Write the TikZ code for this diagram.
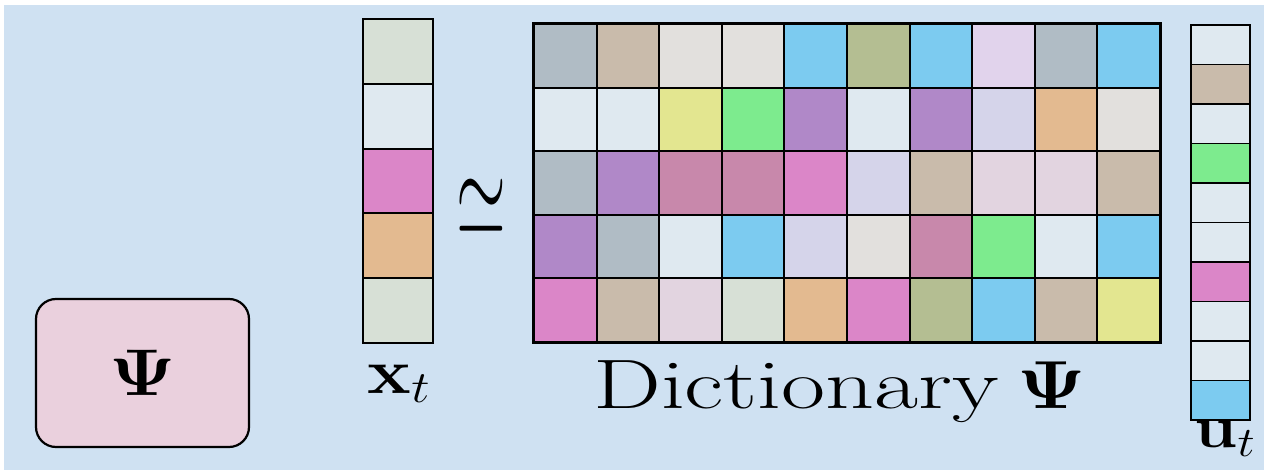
\RequirePackage{fix-cm}
\documentclass[tikz,border=0pt]{standalone}
\usepackage{amsmath,amssymb,bm}
\usepackage{graphicx}
\usepackage{xcolor}
\usepackage{tikz}
\usetikzlibrary{positioning}

\definecolor{bgblue}{HTML}{CFE1F2}
\definecolor{psipink}{HTML}{EAD0DD}
\definecolor{gb}{HTML}{B0BCC5}
\definecolor{tn}{HTML}{C9BBAB}
\definecolor{lg}{HTML}{E2E0DD}
\definecolor{sk}{HTML}{7CCBF0}
\definecolor{ol}{HTML}{B4BE92}
\definecolor{lv}{HTML}{E1D3EC}
\definecolor{pb}{HTML}{DFE9F0}
\definecolor{ye}{HTML}{E3E690}
\definecolor{gr}{HTML}{7DEB8E}
\definecolor{pu}{HTML}{B088C8}
\definecolor{ll}{HTML}{D5D4EA}
\definecolor{og}{HTML}{E3BA90}
\definecolor{ma}{HTML}{C888AB}
\definecolor{pk}{HTML}{DB86C8}
\definecolor{pp}{HTML}{E2D4E0}
\definecolor{pg}{HTML}{D7E0D6}

\newcommand{\wider}[1]{\scalebox{1.15}[1]{#1}}

\begin{document}
\begin{tikzpicture}[
    x=1pt, y=-1pt,
    cell/.style={draw, line width=2pt, inner sep=0pt, minimum width=62.6pt, minimum height=63.6pt},
    xcell/.style={draw, line width=2pt, inner sep=0pt, minimum width=70pt, minimum height=64.8pt},
    ucell/.style={draw, line width=1.6pt, inner sep=0pt, minimum width=59pt, minimum height=39.5pt},
    psibox/.style={draw, line width=2.2pt, rounded corners=20pt, fill=psipink, minimum width=213pt, minimum height=148pt},
    sym/.style={inner sep=0pt, anchor=base}
]
\useasboundingbox (0,0) rectangle (1264,470);
\fill[bgblue] (4,5) rectangle (1264,470);

% dictionary
\foreach \row [count=\r] in {
    {gb,tn,lg,lg,sk,ol,sk,lv,gb,sk},
    {pb,pb,ye,gr,pu,pb,pu,ll,og,lg},
    {gb,pu,ma,ma,pk,ll,tn,pp,pp,tn},
    {pu,gb,pb,sk,ll,lg,ma,gr,pb,sk},
    {pk,tn,pp,pg,og,pk,ol,sk,tn,ye}}
    \foreach \col [count=\c] in \row
        \node[cell, fill=\col] (d-\r-\c) at ({534+62.6*(\c-0.5)}, {24+63.6*(\r-0.5)}) {};
\draw[line width=2.6pt] (d-1-1.north west) rectangle (d-5-10.south east);

% signal and code
\foreach \col [count=\r] in {pg,pb,pk,og,pg}
    \node[xcell, fill=\col] (x-\r) at (398, {19+64.8*(\r-0.5)}) {};
\foreach \col [count=\r] in {pb,tn,pb,gr,pb,pb,pk,pb,pb,sk}
    \node[ucell, fill=\col] (u-\r) at (1220.5, {25+39.5*(\r-0.5)}) {};

\node[psibox] (psi) at (142.5,373) {\fontsize{66}{66}\selectfont\wider{$\boldsymbol{\Psi}$}};

\node[inner sep=0pt] (approx) at (481,207) {\fontsize{64}{64}\selectfont\scalebox{1}[1.9]{$\simeq$}};
\node[sym] (xlab) at (399,393) {\fontsize{64}{64}\selectfont\wider{$\mathbf{x}_t$}};
\node[sym] (ulab) at (1225,447) {\fontsize{60}{60}\selectfont\wider{$\mathbf{u}_t$}};
\node[sym, anchor=base west] (dictlab) at (593,408) {\fontsize{70}{70}\selectfont\scalebox{1.37}[1]{Dictionary}};
\node[sym] (dictpsi) at (1052,408) {\fontsize{68}{68}\selectfont\wider{$\boldsymbol{\Psi}$}};
\end{tikzpicture}
\end{document}
